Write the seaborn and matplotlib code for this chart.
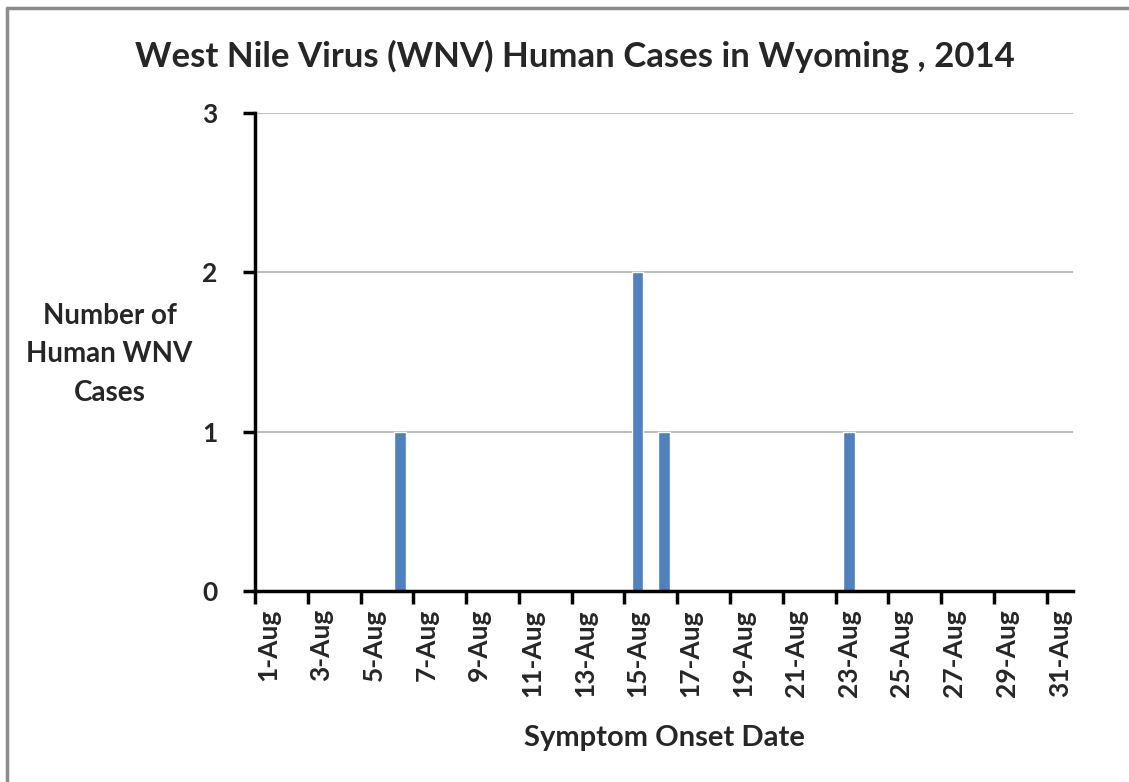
import matplotlib
matplotlib.use('Agg')
import matplotlib.pyplot as plt
import seaborn as sns
import pandas as pd
from matplotlib.lines import Line2D

# data
days = ['1-Aug', '2-Aug', '3-Aug', '4-Aug', '5-Aug', '6-Aug', '7-Aug', '8-Aug',
        '9-Aug', '10-Aug', '11-Aug', '12-Aug', '13-Aug', '14-Aug', '15-Aug', '16-Aug',
        '17-Aug', '18-Aug', '19-Aug', '20-Aug', '21-Aug', '22-Aug', '23-Aug', '24-Aug',
        '25-Aug', '26-Aug', '27-Aug', '28-Aug', '29-Aug', '30-Aug', '31-Aug']
cases = [0, 0, 0, 0, 0, 1, 0, 0, 0, 0, 0, 0, 0, 0, 2, 1,
         0, 0, 0, 0, 0, 0, 1, 0, 0, 0, 0, 0, 0, 0, 0]
y_ticks = [0, 1, 2, 3]

df = pd.DataFrame({'day': days, 'cases': cases})

sns.set_style('white')
plt.rcParams['font.family'] = ['Lato', 'DejaVu Sans']
plt.rcParams['font.weight'] = 'bold'

fig = plt.figure(figsize=(11.29, 7.82), dpi=100)
ax = fig.add_axes([0.2259, 0.2442, 0.7245, 0.6113])

sns.barplot(data=df, x='day', y='cases', order=days, color='#4F81BD',
            width=0.44, saturation=1, ax=ax, zorder=3)

ax.set_xlim(-0.5, len(days) - 0.5)
ax.set_ylim(0, 3)
ax.set_yticks(y_ticks)
ax.set_yticklabels([str(v) for v in y_ticks], fontsize=19, fontweight='bold')
ax.yaxis.grid(True, color='#B0B0B0', linewidth=1.2, zorder=0)
ax.xaxis.grid(False)

# labels at every other day, tick marks at category boundaries
label_pos = list(range(0, len(days), 2))
ax.set_xticks(label_pos)
ax.set_xticklabels([days[i] for i in label_pos], rotation=90, fontsize=19,
                   fontweight='bold')
ax.set_xticks([p - 0.5 for p in label_pos], minor=True)
ax.tick_params(axis='x', which='major', length=0, pad=13)
ax.tick_params(axis='x', which='minor', length=9, width=2.5, color='black',
               bottom=True)
ax.tick_params(axis='y', length=9, width=2.5, color='black', left=True, pad=18)

for s in ['top', 'right']:
    ax.spines[s].set_visible(False)
for s in ['left', 'bottom']:
    ax.spines[s].set_color('black')
    ax.spines[s].set_linewidth(2.5)
    ax.spines[s].set_zorder(4)

ax.set_xlabel('Symptom Onset Date', fontsize=21, fontweight='bold', labelpad=20)
ax.set_ylabel('')
fig.text(0.097, 0.547, 'Number of\nHuman WNV\nCases', ha='center', va='center',
         fontsize=20, fontweight='bold', linespacing=1.6)

fig.text(0.509, 0.928, 'West Nile Virus (WNV) Human Cases in Wyoming , 2014',
         ha='center', va='center', fontsize=25, fontweight='bold')

# chart border
fig.add_artist(Line2D([0.006, 0.006], [0, 0.99], color='#8C8C8C', lw=2.5))
fig.add_artist(Line2D([0.006, 1.0], [0.99, 0.99], color='#8C8C8C', lw=2.5))

fig.savefig('out.png', dpi=100, facecolor='white')
